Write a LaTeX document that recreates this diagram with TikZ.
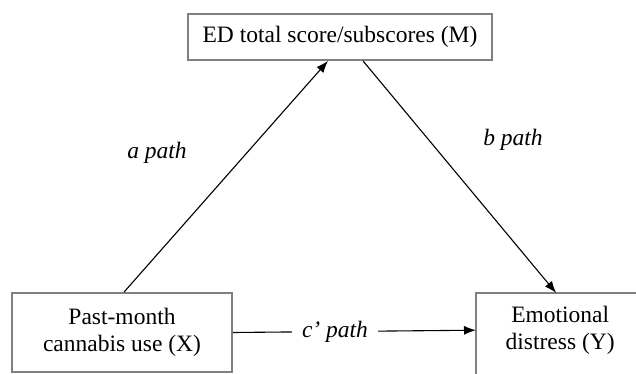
\documentclass[tikz,border=0pt]{standalone}
\usepackage{fontspec}
\setmainfont{Liberation Serif}
\usetikzlibrary{arrows.meta,positioning}
\begin{document}
\begin{tikzpicture}[x=1pt, y=-1pt,
                >={Latex[length=12pt,width=9pt]},
                every node/.append style={align=center, font=\fontsize{23.5}{27}\selectfont},
                var/.style={draw=black!50, line width=1.8pt},
                frame/.style={draw=black!50, line width=1.8pt},
                lbl/.style={font=\fontsize{23.5}{27}\selectfont\itshape}]
\useasboundingbox (0,0) rectangle (636,374);
\clip (0,0) rectangle (636,374);

\node[var, minimum width=304pt, minimum height=46pt] (med) at (340,37) {ED total score/subscores (M)};
\node[var, minimum width=220pt, minimum height=79pt] (cann) at (122,332.5) {Past-month\\cannabis use (X)};
\node[minimum width=168pt, minimum height=74pt, anchor=north west] (dist) at (476,293) {Emotional\\distress (Y)};
\draw[frame] (dist.north west) ++(0,100) |- ++(200,-100);

\path[->, line width=1.1pt] ([xshift=2pt]cann.north) edge ([xshift=-12pt]med.south)
    ([xshift=23pt]med.south) edge ([xshift=-4pt]dist.north)
    (cann.east) edge node[lbl, fill=white, pos=0.42, inner xsep=10pt] {c’ path} (dist.west);

\node[lbl] at (157,153) {a path};
\node[lbl] at (513,140) {b path};

\end{tikzpicture}
\end{document}
